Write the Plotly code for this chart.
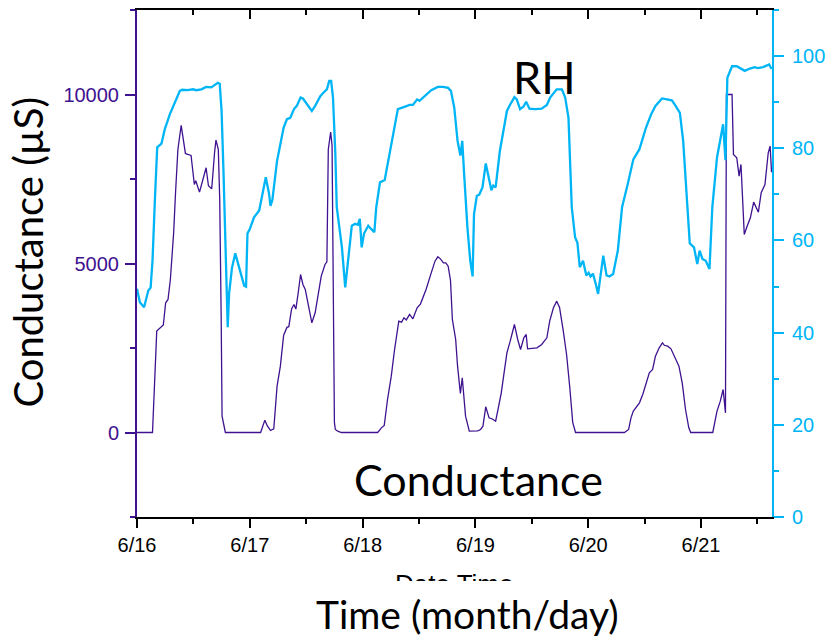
import pandas as pd
import plotly.graph_objects as go

# Logging period starts at midnight on 6/16
start = pd.Timestamp("2019-06-16 00:00")
end_hours = 135.1

# Relative humidity (%) vs hours since start
rh_hours = [
    0.0, 0.6, 1.5, 2.4, 2.9, 3.3, 3.8, 4.3, 5.2, 5.9, 7.0, 8.0, 9.1, 9.6, 10.8,
    11.9, 12.6, 13.7, 14.7, 15.8, 16.5, 17.2, 17.6, 18.0, 18.4, 18.8, 19.1, 19.3,
    19.6, 20.2, 20.9, 21.7, 22.8, 23.2, 23.5, 24.0, 24.9, 26.0, 27.0, 27.4, 28.1,
    28.4, 28.8, 29.8, 31.2, 31.9, 32.6, 33.4, 34.0, 34.8, 35.3, 36.2, 37.2, 37.9,
    39.0, 39.7, 40.4, 40.9, 41.3, 41.7, 42.2, 42.5, 43.6, 44.3, 45.0, 45.7, 46.4,
    47.0, 47.4, 47.8, 48.3, 49.2, 49.8, 50.5, 50.9, 51.7, 52.7, 53.8, 54.5, 55.5,
    56.9, 58.0, 58.7, 59.6, 60.1, 61.2, 62.6, 64.0, 65.1, 66.2, 66.8, 67.5, 68.2,
    68.8, 69.2, 69.6, 70.3, 70.9, 71.4, 71.7, 72.3, 72.8, 73.5, 74.2, 74.9, 75.4,
    75.8, 76.3, 77.2, 78.0, 78.7, 79.4, 80.3, 80.8, 81.5, 82.2, 82.8, 83.5, 84.7,
    86.1, 87.2, 87.9, 89.3, 90.4, 91.1, 91.8, 92.5, 93.2, 93.7, 94.2, 94.9, 95.6,
    96.1, 96.5, 97.0, 97.6, 98.1, 99.2, 99.9, 100.5, 101.3, 102.3, 103.2, 104.4,
    105.6, 106.9, 108.3, 109.4, 110.3, 111.7, 112.5, 113.8, 114.6, 115.5, 116.2,
    116.9, 117.6, 118.5, 119.2, 119.7, 120.3, 121.0, 121.8, 122.4, 123.4, 124.7,
    125.2, 125.6, 126.6, 127.6, 129.3, 130.4, 131.4, 132.1, 133.2, 134.5, 135.0,
]
rh_values = [
    49.5, 46.6, 45.5, 49.1, 49.8, 55.6, 68.6, 80.2, 81.0, 84.1, 87.4, 89.9, 92.4, 92.7, 92.6,
    92.8, 92.6, 92.8, 93.3, 93.2, 93.7, 94.2, 94.0, 88.0, 75.0, 58.0, 48.0, 41.2,
    48.5, 54.0, 57.2, 54.2, 50.2, 50.0, 61.5, 62.5, 65.0, 66.5, 71.9, 73.7, 70.1,
    67.5, 68.8, 77.3, 84.5, 86.3, 86.6, 88.5, 89.2, 91.0, 90.8, 89.5, 88.1, 89.2,
    91.3, 92.1, 92.8, 94.6, 94.6, 91.0, 78.7, 67.2, 58.5, 49.8, 57.1, 63.2, 63.6,
    63.4, 64.7, 58.5, 61.5, 63.2, 62.5, 61.8, 67.2, 72.6, 73.1, 79.4, 83.0, 88.5,
    89.0, 89.4, 89.4, 90.6, 90.3, 91.3, 92.6, 93.3, 93.3, 93.1, 92.4, 88.8, 81.6,
    78.4, 81.6, 74.4, 62.8, 55.6, 52.2, 65.7, 69.7, 69.9, 71.5, 76.7, 72.9, 70.9,
    71.9, 71.5, 79.4, 84.5, 88.1, 89.5, 91.1, 90.6, 88.5, 89.0, 90.1, 88.6, 88.5,
    88.6, 89.4, 91.0, 92.8, 92.8, 91.0, 86.6, 67.2, 60.7, 59.5, 54.2, 55.6, 52.4,
    53.0, 52.2, 52.8, 50.6, 48.4, 56.7, 52.4, 52.2, 52.7, 57.8, 67.2, 72.2,
    77.6, 79.8, 84.5, 87.4, 89.2, 90.8, 90.7, 90.4, 89.2, 87.7, 81.6,
    70.8, 59.4, 58.5, 54.9, 57.8, 56.0, 55.6, 53.8, 67.2, 78.0, 85.2,
    77.4, 95.3, 97.8, 97.8, 96.8, 97.3, 97.6, 97.4, 97.6, 98.2, 97.2,
]

# Conductance (µS) vs hours since start
cond_hours = [
    0.0, 3.3, 4.2, 5.2, 5.6, 6.1, 6.6, 7.1, 7.5, 7.8, 8.2, 8.7, 9.4, 9.9, 10.3,
    10.8, 11.5, 12.2, 12.5, 13.3, 14.0, 14.7, 15.2, 15.9, 16.5, 16.8, 17.3, 17.6,
    17.9, 18.1, 18.8, 26.3, 27.2, 27.7, 28.4, 29.1, 29.8, 30.5, 31.2, 31.9, 32.3,
    32.9, 33.4, 33.8, 34.3, 34.8, 35.3, 35.8, 36.5, 37.2, 37.9, 38.5, 39.2, 40.0,
    40.4, 40.7, 41.2, 41.5, 41.6, 42.0, 42.2, 42.7, 43.5, 51.2, 52.0, 52.6, 53.3,
    54.1, 54.8, 55.7, 56.3, 56.8, 57.3, 58.0, 58.7, 59.6, 60.3, 60.6, 61.5, 62.6,
    63.4, 64.0, 64.6, 65.2, 65.7, 66.2, 66.7, 67.1, 67.8, 68.2, 68.8, 69.2, 69.6,
    69.9, 70.7, 72.5, 73.1, 73.6, 74.2, 74.9, 75.6, 76.3, 76.8, 77.5, 78.0, 78.7,
    79.4, 80.3, 81.0, 81.6, 82.3, 82.8, 83.1, 84.0, 85.1, 86.1, 87.2, 87.8, 88.6,
    89.3, 89.9, 90.7, 91.4, 92.1, 92.7, 93.3, 103.7, 104.6, 105.1, 105.6, 106.2,
    106.9, 107.6, 108.3, 109.0, 109.7, 110.3, 111.1, 111.8, 112.2, 112.9, 113.6,
    114.3, 115.3, 116.0, 116.7, 117.4, 117.8, 122.5, 123.4, 124.1, 124.7, 125.2,
    125.4, 126.6, 126.9, 127.6, 128.1, 128.5, 129.2, 129.8, 130.5, 131.2, 131.6,
    132.2, 132.8, 133.6, 134.3, 134.7, 135.0,
]
cond_values = [
    0, 0, 3000, 3146, 3180, 3838, 3935, 4527, 5217, 5909, 7093, 8374, 9084, 8670, 8256,
    8230, 8197, 7338, 7450, 7111, 7500, 7832, 7300, 7211, 8276, 8650, 8374, 6900,
    3541, 483, 0, 0, 365, 200, 60, 109, 1370, 1962, 2880, 3110, 3130,
    3665, 3787, 3650, 4134, 4675, 4379, 4231, 3737, 3246, 3542, 4083, 4625, 4971,
    5050, 8374, 8886, 8500, 7000, 300, 89, 38, 0, 0, 138, 207, 976,
    1667, 2456, 3295, 3265, 3394, 3330, 3492, 3364, 3689, 3800, 3900, 4231, 4724,
    5069, 5198, 5130, 5021, 5021, 4921, 4500, 3344, 2752, 1962, 1154, 1618, 976,
    483, 40, 50, 89, 187, 760, 434, 400, 335, 680, 1174, 1667, 2358,
    2702, 3196, 2752, 2456, 2801, 2900, 2476, 2480, 2506, 2604, 2801, 3295, 3689,
    3886, 3700, 3000, 2300, 1300, 300, 0, 0, 89, 434, 632, 730,
    878, 1124, 1420, 1766, 1864, 2259, 2506, 2654, 2580, 2555, 2476,
    2259, 1962, 1470, 680, 138, 0, 0, 632, 927, 1272, 582,
    10000, 10000, 8226, 8128, 7584, 7930, 5859, 6104, 6353, 6815, 6700,
    6519, 7093, 7338, 8276, 8472, 7700,
]

PURPLE = "#3F1290"
BLUE = "#00B5F5"
TICK_FONT = "Liberation Sans, Arial, sans-serif"
TITLE_FONT = "Lato, Carlito, Calibri, sans-serif"

rh_time = start + pd.to_timedelta(rh_hours, unit="h")
cond_time = start + pd.to_timedelta(cond_hours, unit="h")
x_range = [start, start + pd.Timedelta(hours=end_hours)]

fig = go.Figure()
fig.add_trace(go.Scatter(x=cond_time, y=cond_values, mode="lines",
                         line=dict(color=PURPLE, width=1.3), name="Conductance",
                         hoverinfo="skip"))
fig.add_trace(go.Scatter(x=rh_time, y=rh_values, mode="lines", yaxis="y2",
                         line=dict(color=BLUE, width=2.3), name="RH",
                         hoverinfo="skip"))
# invisible trace that registers the mirrored top axis
fig.add_trace(go.Scatter(x=x_range, y=[None, None], xaxis="x2", mode="lines",
                         showlegend=False, hoverinfo="skip"))

day_ms = 86400000
fig.update_layout(
    width=835, height=639,
    margin=dict(l=137, r=58, t=10, b=122),
    paper_bgcolor="white", plot_bgcolor="white",
    showlegend=False,
    xaxis=dict(
        type="date", range=x_range, tick0=start, dtick=day_ms, tickformat="%-m/%-d",
        ticks="outside", ticklen=9, tickwidth=1.5, tickcolor="black",
        showline=True, linecolor="black", linewidth=1.5,
        showgrid=False, zeroline=False,
        tickfont=dict(family=TICK_FONT, size=20, color="black"),
        minor=dict(dtick=day_ms // 2, tick0=start, ticks="outside", ticklen=5,
                   tickwidth=1.5, tickcolor="black", showgrid=False),
    ),
    xaxis2=dict(
        type="date", range=x_range, overlaying="x", side="top", anchor="y",
        tick0=start, dtick=day_ms, ticks="inside", ticklen=9, tickwidth=1.5,
        tickcolor="black", showline=True, linecolor="black", linewidth=1.5,
        showticklabels=False, showgrid=False, zeroline=False,
        minor=dict(dtick=day_ms // 2, tick0=start, ticks="inside", ticklen=5,
                   tickwidth=1.5, tickcolor="black", showgrid=False),
    ),
    yaxis=dict(
        range=[-2500, 12500], tick0=0, dtick=5000, tickformat="d",
        ticks="outside", ticklen=10, tickwidth=1.5, tickcolor=PURPLE,
        showline=True, linecolor=PURPLE, linewidth=2,
        showgrid=False, zeroline=False, ticklabelstandoff=2,
        tickfont=dict(family=TICK_FONT, size=20, color=PURPLE),
        minor=dict(tick0=0, dtick=2500, ticks="outside", ticklen=5,
                   tickwidth=1.5, tickcolor=PURPLE, showgrid=False),
    ),
    yaxis2=dict(
        range=[0, 110], tick0=0, dtick=20, overlaying="y", side="right", anchor="x",
        ticks="outside", ticklen=10, tickwidth=1.5, tickcolor=BLUE,
        showline=True, linecolor=BLUE, linewidth=2,
        showgrid=False, zeroline=False, ticklabelstandoff=4,
        tickfont=dict(family=TICK_FONT, size=20, color=BLUE),
        minor=dict(tick0=0, dtick=10, ticks="outside", ticklen=5,
                   tickwidth=1.5, tickcolor=BLUE, showgrid=False),
    ),
)

annotations = [
    dict(text="RH", x=0.642, y=0.868, font=dict(family=TITLE_FONT, size=45, color="black")),
    dict(text="Conductance", x=0.538, y=0.073, font=dict(family=TITLE_FONT, size=43, color="black")),
    dict(text="Conductance (µS)", x=-0.172, y=0.523, textangle=-90,
         font=dict(family=TITLE_FONT, size=40, color="black")),
    # original axis title, only its upper strip is left visible (box clips the text)
    dict(text="Date Time", x=0.4995, y=-0.1006, yanchor="top", valign="top",
         height=12, borderpad=0,
         font=dict(family=TICK_FONT, size=26, color="black")),
    dict(text="Time (month/day)", x=0.521, y=-0.192,
         font=dict(family=TITLE_FONT, size=39, color="black")),
]
for a in annotations:
    a.setdefault("xanchor", "center")
    a.setdefault("yanchor", "middle")
    fig.add_annotation(xref="paper", yref="paper", showarrow=False, **a)

fig.write_html("out.html")
